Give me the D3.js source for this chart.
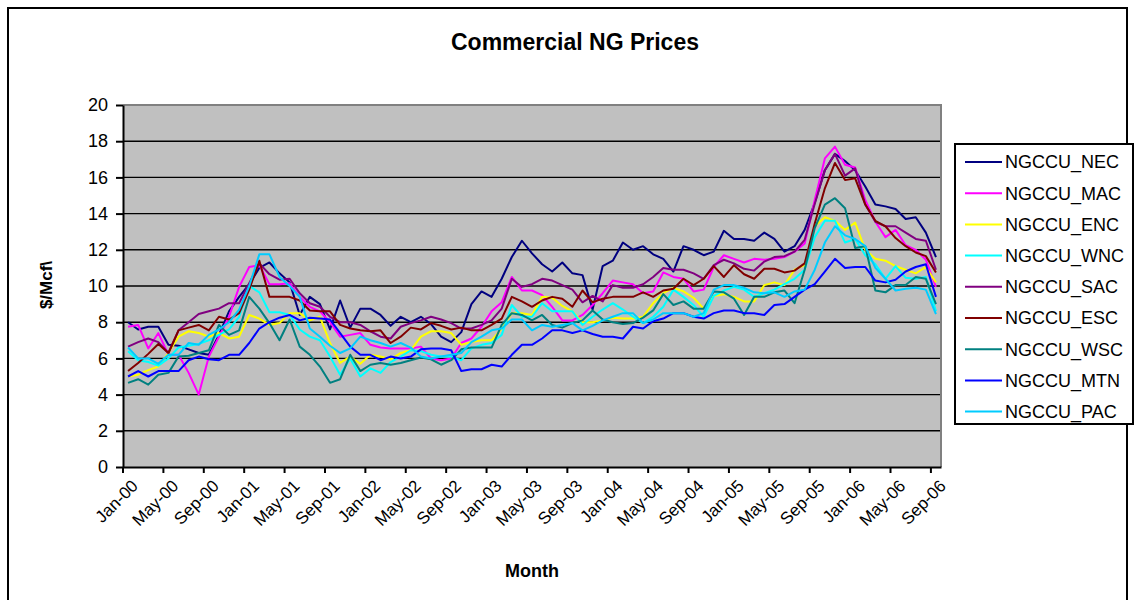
<!DOCTYPE html>
<html>
<head>
<meta charset="utf-8">
<script src="https://cdn.jsdelivr.net/npm/d3@7"></script>
<style>
  body { margin: 0; background: #fff; }
  svg { display: block; font-family: "Liberation Sans", Arial, sans-serif; }
</style>
</head>
<body>
<div id="chart"></div>
<script>
'use strict';

// monthly categories Jan-00 .. Sep-06
var months = d3.timeMonth.range(new Date(2000, 0, 1), new Date(2006, 9, 1))
	.map(d3.timeFormat("%b-%y"));

var tickLabels = ["Jan-00", "May-00", "Sep-00", "Jan-01", "May-01", "Sep-01", "Jan-02",
	"May-02", "Sep-02", "Jan-03", "May-03", "Sep-03", "Jan-04", "May-04", "Sep-04",
	"Jan-05", "May-05", "Sep-05", "Jan-06", "May-06", "Sep-06"];

var yTicks = [0, 2, 4, 6, 8, 10, 12, 14, 16, 18, 20];

var seriesNames = ["NGCCU_NEC", "NGCCU_MAC", "NGCCU_ENC", "NGCCU_WNC", "NGCCU_SAC",
	"NGCCU_ESC", "NGCCU_WSC", "NGCCU_MTN", "NGCCU_PAC"];

var seriesColors = ["#000080", "#ff00ff", "#ffff00", "#00ffff", "#800080",
	"#800000", "#008080", "#0000ff", "#00ccff"];

var nec = [
	8.0, 7.6, 7.75, 7.75, 6.75, 6.7, 6.5, 6.3, 6.2, 7.3, 8.6, 9.4,
	10.1, 11.0, 11.3, 10.7, 10.2, 8.4, 9.4, 9.0, 7.6, 9.2, 7.7, 8.75,
	8.75, 8.4, 7.8, 8.3, 8.0, 8.3, 7.9, 7.2, 6.9, 7.45, 9.0, 9.7,
	9.4, 10.4, 11.6, 12.5, 11.8, 11.2, 10.8, 11.3, 10.7, 10.6, 8.7, 11.1,
	11.4, 12.4, 12.0, 12.2, 11.75, 11.5, 10.8, 12.2, 12.0, 11.7, 11.9, 13.05,
	12.6, 12.6, 12.5, 12.95, 12.6, 11.9, 12.2, 13.1, 14.6, 16.4, 17.3, 16.9,
	16.4, 15.5, 14.5, 14.4, 14.25, 13.7, 13.8, 12.95, 11.6
];

var mac = [
	7.75, 7.85, 6.55, 7.4, 6.2, 6.2, 5.2, 4.0, 6.1, 7.2, 8.3, 9.95,
	11.05, 11.15, 10.1, 10.1, 10.15, 9.4, 8.85, 8.6, 8.0, 7.2, 7.3, 7.4,
	6.75, 6.6, 6.55, 6.55, 6.55, 6.65, 6.0, 5.9, 6.0, 6.85, 7.1, 7.75,
	8.6, 9.1, 10.5, 9.75, 9.75, 9.5, 8.85, 8.1, 8.1, 8.4, 8.95, 9.6,
	10.3, 10.2, 10.1, 9.6, 9.7, 10.75, 10.5, 10.4, 9.7, 9.8, 11.05, 11.7,
	11.5, 11.3, 11.5, 11.45, 11.5, 11.6, 11.9, 12.35, 14.75, 17.05, 17.7, 16.7,
	16.55, 14.75, 13.55, 12.7, 13.1, 12.25, 12.0, 11.45, 9.95
];

var enc = [
	5.0, 5.1, 5.35, 5.55, 6.3, 7.2, 7.5, 7.4, 7.2, 7.4, 7.1, 7.2,
	8.4, 8.2, 7.85, 7.95, 8.5, 8.5, 8.1, 8.3, 6.85, 5.75, 6.1, 5.7,
	6.2, 6.1, 5.95, 6.3, 6.45, 7.2, 7.5, 7.5, 7.4, 6.75, 6.9, 7.0,
	7.0, 7.65, 8.5, 8.5, 8.4, 9.4, 9.35, 8.9, 8.6, 8.0, 8.0, 8.1,
	8.25, 8.2, 8.2, 8.3, 9.05, 9.6, 9.9, 9.7, 9.35, 8.75, 9.45, 9.55,
	9.4, 9.15, 9.15, 10.05, 10.2, 10.05, 10.9, 11.15, 13.3, 13.8, 13.6, 13.1,
	13.5, 12.0, 11.5, 11.4, 11.1, 10.9, 10.7, 11.05, 10.2
];

var wnc = [
	6.4, 5.9, 5.8, 5.6, 6.0, 6.6, 6.7, 6.8, 7.0, 7.3, 7.6, 8.3,
	10.0, 9.65, 8.55, 8.55, 8.4, 7.6, 7.2, 7.0, 6.1, 5.1, 6.0, 5.0,
	5.45, 5.2, 5.8, 6.1, 6.45, 6.4, 6.2, 6.1, 6.1, 5.9, 6.55, 6.75,
	6.85, 7.3, 8.95, 8.3, 8.3, 9.05, 8.6, 8.6, 8.6, 7.85, 8.3, 8.7,
	9.05, 8.7, 8.3, 7.95, 8.3, 8.85, 9.8, 9.4, 8.95, 8.3, 9.45, 9.75,
	9.95, 9.8, 9.4, 9.6, 9.8, 10.1, 10.4, 10.9, 12.7, 13.6, 13.6, 12.4,
	12.6, 11.7, 11.2, 10.4, 11.1, 10.45, 10.4, 10.5, 8.6
];

var sac = [
	6.65, 6.9, 7.1, 6.9, 6.3, 7.55, 8.0, 8.45, 8.6, 8.75, 9.05, 9.05,
	10.15, 11.25, 10.65, 10.35, 10.4, 9.6, 9.05, 8.85, 8.3, 8.0, 8.0, 7.85,
	7.5, 7.2, 7.1, 7.75, 7.95, 8.1, 8.3, 8.15, 7.95, 7.65, 7.65, 7.85,
	8.1, 8.75, 10.4, 9.95, 10.1, 10.4, 10.3, 10.05, 9.8, 9.1, 9.45, 9.15,
	10.05, 9.9, 9.9, 10.1, 10.5, 11.0, 10.9, 10.9, 10.7, 10.4, 11.15, 11.45,
	11.25, 10.95, 10.85, 11.35, 11.6, 11.65, 11.9, 12.55, 14.55, 16.4, 17.3, 16.1,
	16.5, 14.5, 13.55, 13.3, 13.3, 12.95, 12.6, 12.5, 10.9
];

var esc = [
	5.3, 5.75, 6.25, 6.8, 6.3, 7.55, 7.7, 7.85, 7.55, 8.3, 8.15, 8.5,
	9.8, 11.4, 9.4, 9.4, 9.4, 9.2, 8.65, 8.6, 8.6, 7.85, 7.65, 7.55,
	7.5, 7.55, 6.85, 7.2, 7.7, 7.6, 7.95, 7.8, 7.6, 7.7, 7.55, 7.55,
	7.85, 8.2, 9.4, 9.15, 8.85, 9.2, 9.4, 9.3, 8.85, 9.75, 9.1, 9.3,
	9.4, 9.4, 9.4, 9.65, 9.4, 9.75, 9.85, 10.4, 10.05, 10.4, 11.1, 10.5,
	11.15, 10.65, 10.4, 10.95, 10.95, 10.75, 10.85, 11.25, 13.45, 15.4, 16.8, 15.85,
	15.95, 14.5, 13.6, 13.3, 12.65, 12.2, 11.85, 11.65, 10.75
];

var wsc = [
	4.65, 4.85, 4.55, 5.1, 5.2, 6.1, 6.15, 6.3, 6.45, 7.85, 7.3, 7.55,
	9.4, 8.75, 7.95, 7.0, 8.15, 6.65, 6.2, 5.55, 4.65, 4.85, 6.2, 5.3,
	5.65, 5.75, 5.65, 5.75, 5.9, 6.05, 5.95, 5.65, 5.9, 6.5, 6.6, 6.6,
	6.6, 7.85, 8.5, 8.4, 8.1, 8.4, 7.85, 7.7, 7.95, 8.1, 8.65, 8.15,
	8.0, 7.9, 7.95, 8.25, 8.65, 9.55, 8.95, 9.15, 8.75, 8.75, 9.7, 9.65,
	9.3, 8.4, 9.4, 9.4, 9.65, 9.75, 9.05, 10.9, 13.2, 14.5, 14.85, 14.3,
	12.1, 12.2, 9.75, 9.65, 10.05, 10.05, 10.5, 10.4, 9.0
];

var mtn = [
	5.0, 5.3, 5.0, 5.3, 5.3, 5.3, 5.9, 6.1, 5.95, 5.9, 6.2, 6.2,
	6.85, 7.65, 8.0, 8.25, 8.4, 8.1, 8.25, 8.2, 8.15, 7.4, 6.65, 6.2,
	6.2, 5.9, 6.1, 6.0, 6.1, 6.5, 6.55, 6.55, 6.45, 5.3, 5.4, 5.4,
	5.65, 5.55, 6.2, 6.75, 6.75, 7.1, 7.55, 7.55, 7.4, 7.55, 7.35, 7.2,
	7.2, 7.1, 7.75, 7.65, 8.05, 8.2, 8.5, 8.5, 8.3, 8.2, 8.5, 8.65,
	8.65, 8.5, 8.5, 8.4, 8.95, 9.0, 9.4, 9.8, 10.1, 10.8, 11.5, 11.0,
	11.05, 11.05, 10.3, 10.2, 10.35, 10.8, 11.05, 11.2, 9.4
];

var pac = [
	6.6, 6.0, 6.0, 5.7, 6.2, 6.2, 6.85, 6.75, 7.3, 7.6, 8.0, 8.7,
	10.0, 11.75, 11.75, 10.5, 10.0, 9.4, 7.65, 7.2, 6.7, 6.3, 6.55, 7.2,
	7.0, 6.85, 6.65, 6.85, 6.6, 6.1, 6.0, 6.1, 6.2, 6.3, 6.9, 7.2,
	7.55, 7.65, 8.15, 8.15, 7.55, 7.85, 7.75, 7.85, 7.95, 7.55, 7.8, 8.1,
	8.3, 8.5, 8.5, 7.95, 8.15, 8.5, 8.5, 8.5, 8.3, 8.5, 9.8, 10.05,
	10.05, 9.9, 9.65, 9.6, 9.65, 9.4, 9.7, 9.8, 10.9, 12.4, 13.3, 12.8,
	12.6, 12.2, 11.0, 10.4, 9.75, 9.85, 9.9, 9.8, 8.45
];

var seriesValues = [nec, mac, enc, wnc, sac, esc, wsc, mtn, pac];

var series = seriesNames.map(function (name, i) {
	return { name: name, color: seriesColors[i], values: seriesValues[i] };
});

var width = 1135, height = 600;
var plot = { left: 123, right: 941, top: 105, bottom: 467 };

var svg = d3.select("#chart").append("svg")
	.attr("width", width)
	.attr("height", height);

// outer chart frame
svg.append("rect")
	.attr("x", 8).attr("y", 8)
	.attr("width", 1119).attr("height", 620)
	.attr("fill", "#fff")
	.attr("stroke", "#000")
	.attr("stroke-width", 2);

var x = d3.scaleBand()
	.domain(months)
	.range([plot.left, plot.right])
	.padding(0);

var y = d3.scaleLinear()
	.domain([0, 20])
	.range([plot.bottom, plot.top]);

// plot area
svg.append("rect")
	.attr("x", plot.left).attr("y", plot.top)
	.attr("width", plot.right - plot.left)
	.attr("height", plot.bottom - plot.top)
	.attr("fill", "#c0c0c0");

// gridlines
svg.append("g")
	.selectAll("line")
	.data(yTicks.filter(function (d) { return d > 0 && d < 20; }))
	.enter().append("line")
	.attr("x1", plot.left).attr("x2", plot.right)
	.attr("y1", function (d) { return y(d); })
	.attr("y2", function (d) { return y(d); })
	.attr("stroke", "#000")
	.attr("stroke-width", 1.4);

// top and right border of plot area
svg.append("path")
	.attr("d", "M" + plot.left + "," + plot.top + "H" + plot.right + "V" + plot.bottom)
	.attr("fill", "none")
	.attr("stroke", "#808080")
	.attr("stroke-width", 2);

// series lines
var line = d3.line()
	.x(function (d, i) { return x(months[i]) + x.bandwidth() / 2; })
	.y(function (d) { return y(d); });

svg.append("g")
	.selectAll("path")
	.data(series)
	.enter().append("path")
	.attr("d", function (s) { return line(s.values); })
	.attr("fill", "none")
	.attr("stroke", function (s) { return s.color; })
	.attr("stroke-width", 2)
	.attr("stroke-linejoin", "round");

// y axis
var yAxis = svg.append("g")
	.attr("transform", "translate(" + plot.left + ",0)")
	.call(d3.axisLeft(y).tickValues(yTicks).tickSize(7).tickPadding(8).tickSizeOuter(0));
yAxis.select(".domain").attr("stroke", "#000").attr("stroke-width", 2);
yAxis.selectAll(".tick line").attr("stroke", "#000").attr("stroke-width", 2);
yAxis.selectAll(".tick text")
	.attr("font-size", "18px")
	.attr("font-family", "Liberation Sans, Arial, sans-serif")
	.attr("fill", "#000");

// x axis: ticks at category boundaries, labels centred on categories
var xAxis = svg.append("g")
	.attr("transform", "translate(0," + plot.bottom + ")")
	.call(d3.axisBottom(x).tickValues(tickLabels).tickSize(6).tickSizeOuter(0));
xAxis.select(".domain").attr("stroke", "#000").attr("stroke-width", 2);
xAxis.selectAll(".tick line")
	.attr("x1", -x.bandwidth() / 2)
	.attr("x2", -x.bandwidth() / 2)
	.attr("stroke", "#000")
	.attr("stroke-width", 2);
xAxis.selectAll(".tick text")
	.attr("font-size", "17px")
	.attr("font-family", "Liberation Sans, Arial, sans-serif")
	.attr("fill", "#000")
	.attr("text-anchor", "end")
	.attr("dy", null)
	.attr("y", null)
	.attr("transform", "translate(11,20) rotate(-45)");

// titles
svg.append("text")
	.attr("x", 575).attr("y", 50)
	.attr("text-anchor", "middle")
	.attr("font-size", "23px")
	.attr("font-weight", "bold")
	.text("Commercial NG Prices");

svg.append("text")
	.attr("x", (plot.left + plot.right) / 2).attr("y", 577)
	.attr("text-anchor", "middle")
	.attr("font-size", "18px")
	.attr("font-weight", "bold")
	.text("Month");

svg.append("text")
	.attr("transform", "translate(52,285) rotate(-90)")
	.attr("text-anchor", "middle")
	.attr("font-size", "17px")
	.attr("font-weight", "bold")
	.text("$/Mcf\\");

// legend
var legend = svg.append("g").attr("transform", "translate(955,144)");
legend.append("rect")
	.attr("width", 178).attr("height", 280)
	.attr("fill", "#fff")
	.attr("stroke", "#000")
	.attr("stroke-width", 2);

var item = legend.selectAll(".item")
	.data(series)
	.enter().append("g")
	.attr("class", "item")
	.attr("transform", function (d, i) { return "translate(0," + (18 + i * 31.2) + ")"; });

item.append("line")
	.attr("x1", 10).attr("x2", 47)
	.attr("stroke", function (d) { return d.color; })
	.attr("stroke-width", 2);

item.append("text")
	.attr("x", 50)
	.attr("dy", "0.36em")
	.attr("font-size", "18px")
	.text(function (d) { return d.name; });
</script>
</body>
</html>
